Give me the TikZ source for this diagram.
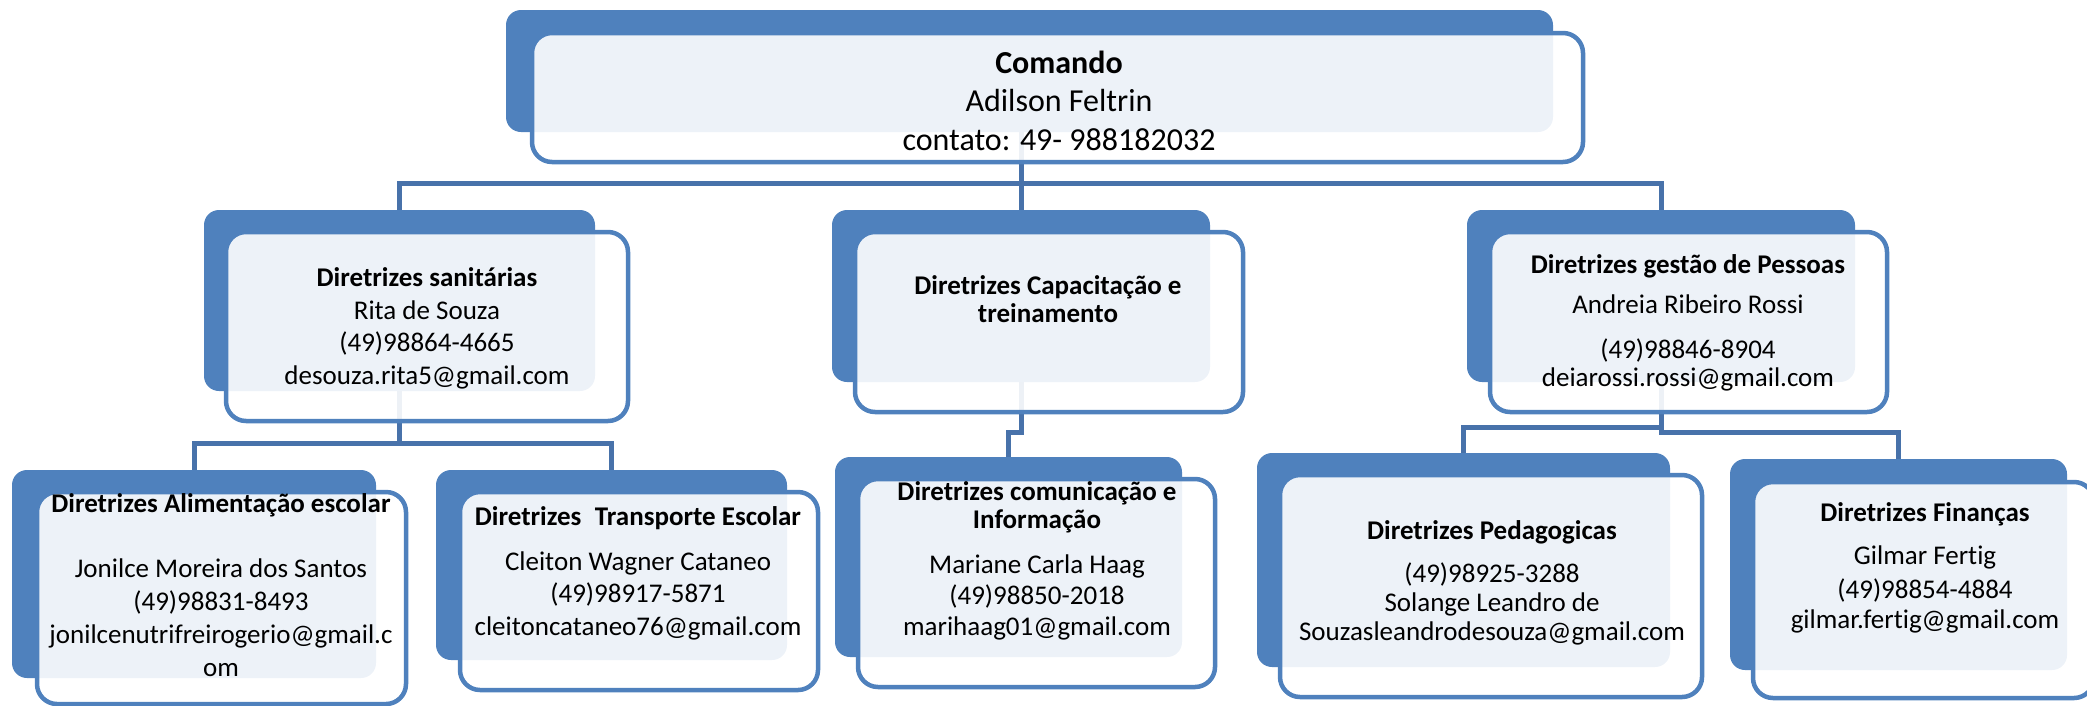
\documentclass[tikz,border=0pt]{standalone}
\usepackage{fontspec}
\setmainfont{Carlito}[Ligatures=NoCommon]
\usepackage{tikz}
\usetikzlibrary{fit}
\definecolor{boxblue}{RGB}{79,129,189}
\definecolor{linkblue}{RGB}{72,114,170}
\pgfdeclarelayer{background}
\pgfsetlayers{background,main}
\tikzset{%
  back box/.style={
    draw=none,
    fill=boxblue,
    rounded corners=15pt,
    inner sep=0pt
  },
  front box/.style={
    draw=boxblue,
    line width=4.5pt,
    fill=white,
    fill opacity=0.9,
    rounded corners=20pt,
    inner sep=0pt
  },
  link/.style={
    draw=linkblue,
    line width=5pt
  },
  box text/.style={
    align=center,
    inner sep=0pt,
    font={\fontsize{27}{#1}\selectfont}
  },
}

\begin{document}
\begin{tikzpicture}[x=1pt, y=-1pt]
        \useasboundingbox (0,0) rectangle (2087,705);

        %%%%%%%%%%%%%%%%%%%%%%%%%%%%%%%%%%%%%%%%%%%%
        % Boxes
        %%%%%%%%%%%%%%%%%%%%%%%%%%%%%%%%%%%%%%%%%%%%

        % Drawing
        \foreach \n/\bx/\by/\bX/\bY/\fx/\fy/\fX/\fY in {
            cmd/506/10/1553/132/532/33/1583/162,
            san/204/210/595/391/226/232/628/421,
            cap/832/210/1210/382/855/232/1243/412,
            pes/1467/210/1855/382/1490/232/1887/412,
            ali/12/470/376/678/37/492/406/704,
            tra/436/470/787/660/460/492/818/690,
            com/835/457/1182/657/858/479/1215/687,
            ped/1257/453/1670/667/1280/475/1702/697,
            fin/1730/459/2067/670/1753/482/2094/698}
        {
            \node [back box, fit={(\bx,\by) (\bX,\bY)}] (\n-back) {};
            \node [front box, fit={(\fx,\fy) (\fX,\fY)}] (\n-front) {};
        }

        % Labeling
        \node [align=center, inner sep=0pt, font={\fontsize{32}{38.5}\selectfont}] (cmd) at (1059,100.5)
            {\textbf{Comando}\\Adilson Feltrin\\contato: 49- 988182032};
        \node [box text=32.5] (san) at (427,328.5)
            {\textbf{Diretrizes sanitárias}\\Rita de Souza\\(49)98864-4665\\desouza.rita5@gmail.com};
        \node [box text=28] (cap) at (1048,299)
            {\textbf{Diretrizes Capacitação e}\\\textbf{treinamento}};
        \node [box text=28] (pes) at (1688,322.5)
            {\textbf{Diretrizes gestão de Pessoas}\\[12pt]Andreia Ribeiro Rossi\\[17pt](49)98846-8904\\deiarossi.rossi@gmail.com};
        \node [box text=32.8] (ali) at (221,585)
            {\textbf{Diretrizes Alimentação escolar}\\[32.8pt]Jonilce Moreira dos Santos\\(49)98831-8493\\jonilcenutrifreirogerio@gmail.c\\om};
        \node [box text=32.5] (tra) at (638,573)
            {\textbf{Diretrizes\enspace Transporte Escolar}\\[12.5pt]Cleiton Wagner Cataneo\\(49)98917-5871\\cleitoncataneo76@gmail.com};
        \node [box text=31] (com) at (1037,560.5)
            {\textbf{Diretrizes comunicação e}\\[-3pt]\textbf{Informação}\\[14pt]Mariane Carla Haag\\(49)98850-2018\\marihaag01@gmail.com};
        \node [box text=29] (ped) at (1492,582.5)
            {\textbf{Diretrizes Pedagogicas}\\[14pt](49)98925-3288\\Solange Leandro de\\Souzasleandrodesouza@gmail.com};
        \node [box text=30] (fin) at (1925,567.5)
            {\textbf{Diretrizes Finanças}\\[13pt]Gilmar Fertig\\[4pt](49)98854-4884\\gilmar.fertig@gmail.com};

        %%%%%%%%%%%%%%%%%%%%%%%%%%%%%%%%%%%%%%%%%%%%
        % Connecting
        %%%%%%%%%%%%%%%%%%%%%%%%%%%%%%%%%%%%%%%%%%%%
        \coordinate (bar-top) at (0,183);
        \coordinate (bar-san) at (0,443);
        \coordinate (bar-cap) at (0,432);
        \coordinate (bar-ped) at (0,427);
        \coordinate (bar-fin) at (0,432);

        \begin{pgfonlayer}{background}
            % Comando to second row
            \draw [link] (cap-back |- cmd-back.center) -- (cap-back.center);
            \draw [link] (san-back.center) -- (san-back |- bar-top) -| (pes-back.center);

            % Second row to third row
            \draw [link] (san-back.center) -- (san-back |- bar-san);
            \draw [link] (ali-back.center) -- (ali-back |- bar-san) -| (tra-back.center);
            \draw [link] (cap-back.center) -- (cap-back |- bar-cap) -| (com-back.center);
            \draw [link] (ped-back.center) -- (ped-back |- bar-ped) -- (pes-back |- bar-ped);
            \draw [link] (pes-back.center) -- (pes-back |- bar-fin) -| (fin-back.center);
        \end{pgfonlayer}
\end{tikzpicture}
\end{document}
